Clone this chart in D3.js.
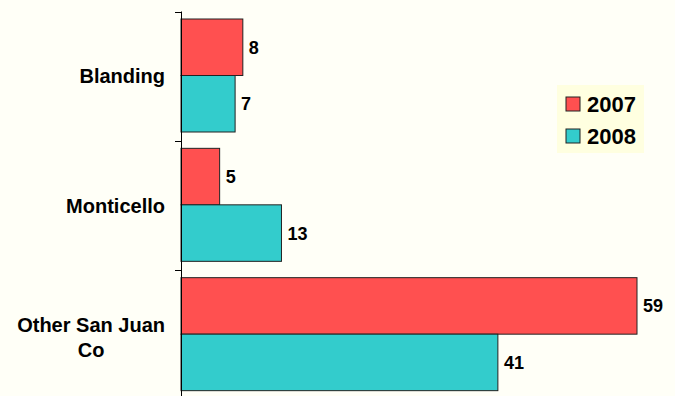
<!DOCTYPE html>
<html>
<head>
<meta charset="utf-8">
<script src="https://cdn.jsdelivr.net/npm/d3@7"></script>
<style>
  body { margin: 0; background: #fffff7; }
  svg { display: block; font-family: "Liberation Sans", Arial, sans-serif; }
</style>
</head>
<body>
<div id="chart"></div>
<script>
var categories = ["Blanding", "Monticello", "Other San Juan Co"];
var catLines = [["Blanding"], ["Monticello"], ["Other San Juan", "Co"]];
var series = ["2007", "2008"];
var values2007 = [8, 5, 59];
var values2008 = [7, 13, 41];

var colours = d3.scaleOrdinal().domain(series).range(["#ff5050", "#33cccc"]);

var width = 675, height = 396;
var axisX = 181;

var svg = d3.select("#chart").append("svg")
    .attr("width", width)
    .attr("height", height);

svg.append("rect").attr("width", width).attr("height", height).attr("fill", "#fffff7");

var y0 = d3.scaleBand().domain(categories).range([11.5, 399.5]);
var y1 = d3.scaleBand().domain(series).range([7.5, 120.5]);
var x = d3.scaleLinear().domain([0, 59]).range([axisX, 637]);

var data = categories.map(function(c, i) {
  return { cat: c, lines: catLines[i], vals: [
    { s: "2007", v: values2007[i] },
    { s: "2008", v: values2008[i] }
  ]};
});

var groups = svg.selectAll(".grp")
    .data(data)
  .enter().append("g")
    .attr("class", "grp")
    .attr("transform", function(d) { return "translate(0," + y0(d.cat) + ")"; });

groups.selectAll("rect")
    .data(function(d) { return d.vals; })
  .enter().append("rect")
    .attr("x", axisX)
    .attr("y", function(d) { return y1(d.s); })
    .attr("width", function(d) { return x(d.v) - axisX; })
    .attr("height", y1.bandwidth())
    .attr("fill", function(d) { return colours(d.s); })
    .attr("stroke", "#222")
    .attr("stroke-width", 1);

groups.selectAll(".val")
    .data(function(d) { return d.vals; })
  .enter().append("text")
    .attr("class", "val")
    .attr("x", function(d) { return x(d.v) + 6; })
    .attr("y", function(d) { return y1(d.s) + y1.bandwidth() / 2; })
    .attr("dy", "0.36em")
    .attr("font-size", 18)
    .attr("font-weight", "bold")
    .text(function(d) { return d.v; });

// axis line and boundary ticks
svg.append("line")
    .attr("x1", axisX + 0.5).attr("x2", axisX + 0.5)
    .attr("y1", y0.range()[0]).attr("y2", y0.range()[1])
    .attr("stroke", "#000");
var bounds = categories.map(function(c) { return y0(c); });
svg.selectAll(".tick")
    .data(bounds)
  .enter().append("line")
    .attr("x1", axisX - 6).attr("x2", axisX)
    .attr("y1", function(d) { return Math.round(d) + 0.5; })
    .attr("y2", function(d) { return Math.round(d) + 0.5; })
    .attr("stroke", "#000");

// category labels
var labels = groups.append("text")
    .attr("font-size", 20)
    .attr("font-weight", "bold")
    .attr("text-anchor", "middle");
labels.each(function(d) {
  var t = d3.select(this);
  var lh = 25;
  var n = d.lines.length;
  var cy = y0.bandwidth() / 2 + (n > 1 ? 2 : 0);
  d.lines.forEach(function(l, i) {
    t.append("tspan")
      .attr("y", cy + (i - (n - 1) / 2) * lh)
      .attr("dy", "0.36em")
      .text(l);
  });
  var w = 0;
  t.selectAll("tspan").each(function() { w = Math.max(w, this.getComputedTextLength()); });
  t.selectAll("tspan").attr("x", 165 - w / 2);
});

// legend
var legend = svg.append("g").attr("transform", "translate(557,85)");
legend.append("rect").attr("width", 87).attr("height", 68).attr("fill", "#ffffe0");
var items = legend.selectAll(".item")
    .data(series)
  .enter().append("g")
    .attr("transform", function(d, i) { return "translate(9," + (12 + i * 32) + ")"; });
items.append("rect")
    .attr("width", 14).attr("height", 14)
    .attr("fill", function(d) { return colours(d); })
    .attr("stroke", "#222");
items.append("text")
    .attr("x", 21).attr("y", 7).attr("dy", "0.36em")
    .attr("font-size", 22)
    .attr("font-weight", "bold")
    .text(function(d) { return d; });
</script>
</body>
</html>
